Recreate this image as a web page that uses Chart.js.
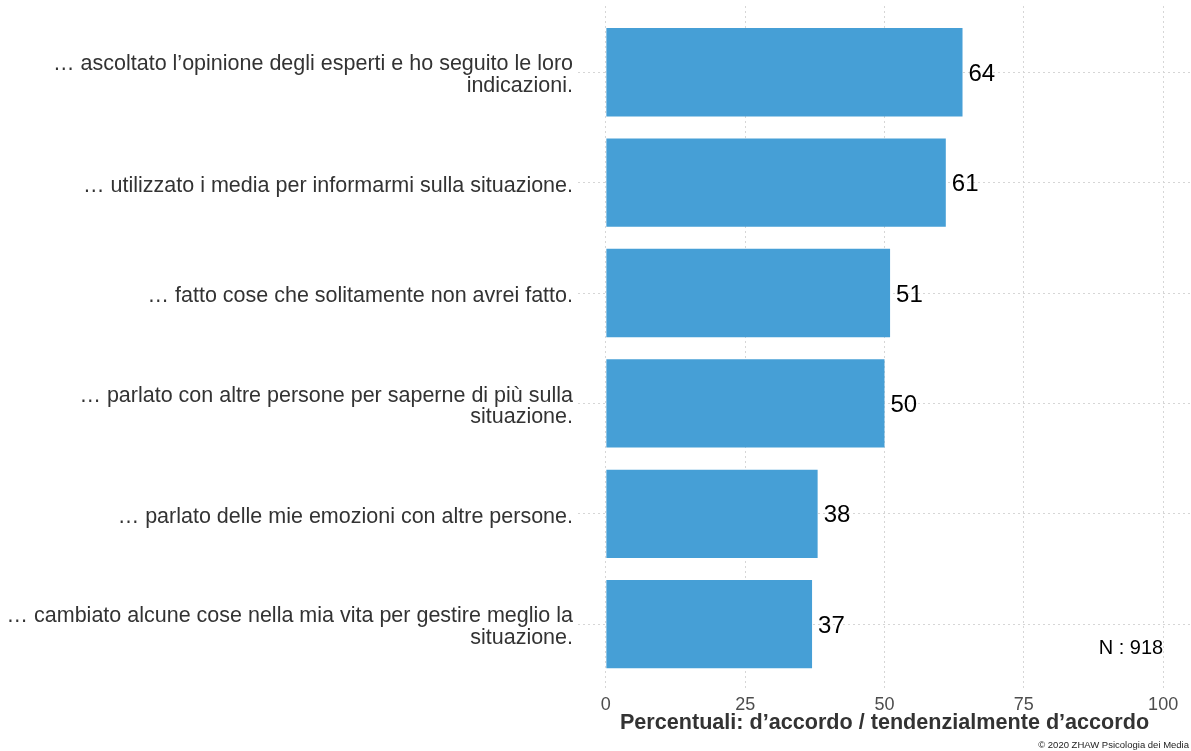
<!DOCTYPE html>
<html>
<head>
<meta charset="utf-8">
<script src="https://cdn.jsdelivr.net/npm/chart.js@4/dist/chart.umd.min.js"></script>
<style>
  html, body { margin: 0; padding: 0; background: #fff; }
  #wrap { position: relative; width: 1191px; height: 751px; }
</style>
</head>
<body>
<div id="wrap"><canvas id="chart"></canvas></div>
<script>
// Categories (each entry is one wrapped label: one string per line)
const categories = [
    ["… ascoltato l’opinione degli esperti e ho seguito le loro", "indicazioni."],
    ["… utilizzato i media per informarmi sulla situazione."],
    ["… fatto cose che solitamente non avrei fatto."],
    ["… parlato con altre persone per saperne di più sulla", "situazione."],
    ["… parlato delle mie emozioni con altre persone."],
    ["… cambiato alcune cose nella mia vita per gestire meglio la", "situazione."]
];
const agreePercent = [64, 61, 51, 50, 38, 37];
const xTicks = [0, 25, 50, 75, 100];
const sampleLabel = "N : 918";
const axisTitle = "Percentuali: d’accordo / tendenzialmente d’accordo";
const caption = "© 2020 ZHAW Psicologia dei Media";

const FONT = "Arial, 'Liberation Sans', Helvetica, sans-serif";
const BAR_COLOR = "#469fd6";
const GRID_COLOR = "#d6d6d6";

// value labels at bar ends, sample size note and caption
const annotations = {
    id: "annotations",
    afterDatasetsDraw(chart) {
        const ctx = chart.ctx;
        const meta = chart.getDatasetMeta(0);
        ctx.save();
        ctx.fillStyle = "#000";
        ctx.font = "24px " + FONT;
        ctx.textAlign = "left";
        ctx.textBaseline = "middle";
        meta.data.forEach((bar, i) => {
            ctx.fillText(String(agreePercent[i]), bar.x + 6, bar.y + 2);
        });

        const xs = chart.scales.x, ys = chart.scales.y;
        ctx.font = "20px " + FONT;
        ctx.textAlign = "right";
        ctx.fillText(sampleLabel, xs.getPixelForValue(100), ys.getPixelForValue(5.22));

        ctx.fillStyle = "#222";
        ctx.font = "9.5px " + FONT;
        ctx.textAlign = "right";
        ctx.textBaseline = "alphabetic";
        ctx.fillText(caption, chart.width - 2, chart.height - 3);
        ctx.restore();
    }
};

new Chart(document.getElementById("chart"), {
    type: "bar",
    data: {
        datasets: [{
            data: agreePercent.map((v, i) => ({ x: v, y: i })),
            backgroundColor: BAR_COLOR,
            borderWidth: 0,
            barPercentage: 0.8,
            categoryPercentage: 1
        }]
    },
    options: {
        indexAxis: "y",
        responsive: true,
        maintainAspectRatio: false,
        animation: false,
        layout: { padding: { top: 6, right: 0, bottom: 17, left: 0 } },
        scales: {
            x: {
                type: "linear",
                min: -5,
                max: 105,
                afterBuildTicks: s => { s.ticks = xTicks.map(v => ({ value: v })); },
                afterFit: s => { s.paddingLeft = 0; s.paddingRight = 0; },
                border: { display: false, dash: [2, 3] },
                grid: {
                    color: GRID_COLOR,
                    lineWidth: 1,
                    drawTicks: false
                },
                ticks: {
                    color: "#4d4d4d",
                    font: { family: FONT, size: 18, lineHeight: 1 },
                    padding: 6
                },
                title: {
                    display: true,
                    text: axisTitle,
                    color: "#333",
                    font: { family: FONT, size: 21.6, weight: "bold", lineHeight: 1 },
                    padding: { top: -8, bottom: 0 }
                }
            },
            y: {
                type: "linear",
                reverse: true,
                offset: false,
                min: -0.6,
                max: 5.6,
                afterBuildTicks: s => { s.ticks = categories.map((c, i) => ({ value: i })); },
                afterFit: s => { s.width = 578; s.paddingTop = 0; s.paddingBottom = 0; },
                border: { display: false, dash: [2, 3] },
                grid: {
                    color: GRID_COLOR,
                    lineWidth: 1,
                    offset: false,
                    drawTicks: false
                },
                ticks: {
                    color: "#333",
                    font: { family: FONT, size: 21.5, lineHeight: 1 },
                    padding: 5,
                    labelOffset: 3,
                    callback: v => categories[v]
                }
            }
        },
        plugins: {
            legend: { display: false },
            tooltip: { enabled: false }
        }
    },
    plugins: [annotations]
});
</script>
</body>
</html>
